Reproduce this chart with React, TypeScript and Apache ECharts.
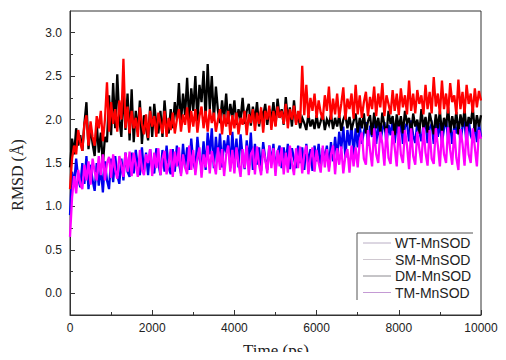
import React, { useEffect, useRef } from "react";
import * as echarts from "echarts";

// Sampling times (ps)
const TIMES: number[] = Array.from({ length: 201 }, (_, i) => i * 50);

// WT-MnSOD (black) values, every 50 ps
const WT: number[] = [
  1.45, 1.78, 1.6, 1.9, 1.7, 1.82, 1.64, 1.95, 2.2, 1.66,
  1.92, 1.72, 1.58, 1.96, 1.62, 1.85, 1.48, 1.8, 1.74, 2.28,
  1.82, 2.42, 1.9, 2.52, 2.0, 1.8, 2.36, 1.88, 2.3, 1.76,
  2.35, 1.74, 2.1, 1.86, 2.22, 1.72, 2.05, 1.9, 1.76, 2.15,
  1.8, 2.18, 1.95, 1.84, 2.1, 1.8, 2.22, 1.92, 1.84, 2.12,
  1.9, 2.2, 2.0, 2.42, 1.96, 2.3, 2.05, 2.48, 1.98, 2.36,
  2.1, 2.5, 1.98, 2.4, 2.2, 2.56, 2.0, 2.64, 2.12, 2.5,
  2.0, 2.38, 2.1, 1.96, 2.22, 2.0, 2.3, 1.95, 2.18, 2.02,
  2.22, 1.94, 2.12, 2.0, 2.25, 1.95, 2.1, 2.18, 1.93, 2.15,
  1.98, 2.2, 1.92, 2.1, 2.04, 2.18, 1.94, 2.12, 2.0, 2.2,
  1.93, 2.24, 2.02, 2.12, 1.94, 2.26, 2.0, 2.14, 1.92, 2.22,
  1.96, 2.06, 1.9, 2.02, 1.96, 1.88, 2.06, 1.92, 2.0, 1.89,
  2.05, 1.9, 1.98, 2.07, 1.88, 2.0, 1.94, 2.06, 1.89, 2.02,
  1.92, 2.05, 1.87, 2.0, 2.06, 1.9, 2.03, 1.88, 1.98, 2.07,
  1.85, 2.02, 1.9, 2.07, 1.84, 1.98, 2.05, 1.82, 2.08, 1.9,
  2.02, 1.84, 2.08, 1.93, 1.83, 2.1, 1.95, 2.04, 1.82, 2.06,
  1.9, 2.04, 1.84, 2.1, 1.96, 2.02, 1.83, 2.07, 1.92, 2.0,
  1.84, 2.12, 1.9, 2.03, 1.85, 2.08, 1.96, 1.83, 2.06, 1.9,
  2.1, 1.84, 2.02, 1.92, 2.14, 1.85, 2.04, 1.9, 2.09, 1.83,
  2.06, 1.92, 2.12, 1.85, 2.03, 1.95, 2.14, 1.86, 2.05, 1.92,
  2.05,
];

// SM-MnSOD (red)
const SM: number[] = [
  1.2, 1.55, 1.7, 1.6, 1.88, 1.74, 1.64, 1.95, 2.05, 1.7,
  1.98, 1.8, 1.7, 2.04, 1.9, 2.1, 1.75, 2.0, 2.43, 1.86,
  2.2, 1.95, 2.12, 1.86, 2.22, 2.0, 2.7, 1.9, 2.15, 1.84,
  2.1, 1.9, 2.02, 1.8, 2.14, 1.95, 1.83, 2.06, 1.79, 2.1,
  1.92, 2.04, 1.8, 2.08, 1.96, 1.84, 2.1, 1.8, 2.02, 1.88,
  2.08, 1.84, 2.0, 2.12, 1.86, 2.06, 1.94, 2.14, 1.85, 2.1,
  1.92, 2.12, 1.85, 2.04, 2.15, 1.9, 2.1, 1.86, 2.12, 1.96,
  2.08, 1.86, 2.0, 2.12, 1.83, 2.06, 1.92, 2.1, 1.82, 2.05,
  1.9, 2.08, 1.83, 2.02, 1.94, 2.1, 1.82, 2.06, 1.96, 2.12,
  1.87, 2.08, 1.95, 2.14, 1.85, 2.1, 2.0, 2.16, 1.88, 2.1,
  1.92, 2.15, 2.02, 2.1, 1.95, 2.18, 1.9, 2.12, 2.0, 2.16,
  1.94, 2.1, 1.96, 2.62, 2.05, 2.4, 2.02, 2.25, 2.1, 2.3,
  2.02, 2.22, 2.08, 2.0, 2.28, 2.1, 2.38, 2.0, 2.24, 2.06,
  2.3, 2.02, 2.18, 2.37, 2.0, 2.24, 2.12, 2.3, 2.01, 2.4,
  2.06, 2.28, 2.02, 2.2, 2.32, 2.04, 2.26, 2.12, 2.38, 2.04,
  2.3, 2.14, 2.42, 2.04, 2.28, 2.18, 2.06, 2.34, 2.1, 2.3,
  2.05, 2.36, 2.14, 2.28, 2.06, 2.45, 2.1, 2.3, 2.07, 2.34,
  2.18, 2.28, 2.06, 2.4, 2.12, 2.32, 2.07, 2.49, 2.15, 2.3,
  2.06, 2.45, 2.12, 2.3, 2.07, 2.42, 2.2, 2.28, 2.06, 2.46,
  2.12, 2.32, 2.07, 2.4, 2.18, 2.3, 2.08, 2.36, 2.14, 2.33,
  2.22,
];

// DM-MnSOD (blue)
const DM: number[] = [
  0.9, 1.4, 1.25, 1.55, 1.32, 1.22, 1.5, 1.26, 1.58, 1.2,
  1.48, 1.3, 1.18, 1.5, 1.24, 1.45, 1.16, 1.52, 1.3, 1.2,
  1.55, 1.28, 1.58, 1.36, 1.26, 1.55, 1.3, 1.62, 1.4, 1.34,
  1.62, 1.38, 1.65, 1.46, 1.36, 1.68, 1.4, 1.62, 1.36, 1.66,
  1.44, 1.38, 1.67, 1.5, 1.36, 1.65, 1.4, 1.7, 1.45, 1.37,
  1.66, 1.4, 1.7, 1.5, 1.38, 1.72, 1.44, 1.68, 1.42, 1.78,
  1.5, 1.42, 1.8, 1.55, 1.45, 1.75, 1.42, 1.85, 1.6, 1.9,
  1.44, 1.8, 1.52, 1.84, 1.45, 1.76, 1.62, 1.82, 1.44, 1.86,
  1.5, 1.78, 1.45, 1.83, 1.58, 1.43, 1.76, 1.5, 1.85, 1.42,
  1.72, 1.48, 1.68, 1.41, 1.74, 1.55, 1.42, 1.7, 1.5, 1.72,
  1.42, 1.62, 1.7, 1.44, 1.68, 1.5, 1.72, 1.43, 1.67, 1.55,
  1.44, 1.7, 1.5, 1.68, 1.42, 1.72, 1.48, 1.66, 1.41, 1.7,
  1.52, 1.72, 1.44, 1.67, 1.55, 1.7, 1.45, 1.74, 1.52, 1.8,
  1.55, 1.86, 1.66, 1.92, 1.56, 1.88, 1.7, 1.95, 1.58, 1.9,
  1.68, 1.94, 1.72, 1.86, 1.97, 1.7, 1.93, 1.8, 1.98, 1.72,
  1.95, 1.74, 1.88, 1.97, 1.72, 1.94, 1.82, 2.0, 1.73, 1.95,
  1.8, 1.98, 1.72, 1.92, 1.96, 1.75, 1.99, 1.82, 1.73, 1.97,
  1.86, 1.75, 1.94, 1.98, 1.73, 1.9, 1.95, 1.72, 1.99, 1.8,
  1.96, 1.73, 1.9, 2.0, 1.76, 1.96, 1.72, 1.94, 1.84, 1.98,
  1.74, 1.92, 1.96, 1.72, 1.99, 1.82, 1.75, 1.97, 1.74, 1.95,
  1.8,
];

// TM-MnSOD (magenta)
const TM: number[] = [
  0.65, 1.1, 1.35, 1.15, 1.42, 1.26, 1.2, 1.48, 1.3, 1.52,
  1.25, 1.55, 1.4, 1.3, 1.58, 1.36, 1.6, 1.3, 1.5, 1.57,
  1.33, 1.6, 1.42, 1.32, 1.58, 1.48, 1.34, 1.62, 1.4, 1.63,
  1.35, 1.62, 1.48, 1.34, 1.65, 1.42, 1.36, 1.6, 1.5, 1.66,
  1.35, 1.62, 1.44, 1.67, 1.36, 1.55, 1.64, 1.37, 1.5, 1.66,
  1.34, 1.63, 1.46, 1.68, 1.35, 1.6, 1.45, 1.37, 1.7, 1.42,
  1.65, 1.36, 1.56, 1.68, 1.33, 1.6, 1.45, 1.7, 1.38, 1.64,
  1.5, 1.37, 1.68, 1.42, 1.66, 1.35, 1.6, 1.7, 1.4, 1.65,
  1.38, 1.68, 1.5, 1.34, 1.66, 1.44, 1.7, 1.36, 1.6, 1.65,
  1.37, 1.69, 1.48, 1.36, 1.66, 1.55, 1.38, 1.7, 1.44, 1.67,
  1.35, 1.65, 1.46, 1.68, 1.37, 1.62, 1.39, 1.7, 1.5, 1.36,
  1.67, 1.44, 1.69, 1.38, 1.6, 1.7, 1.37, 1.55, 1.68, 1.4,
  1.65, 1.5, 1.39, 1.7, 1.45, 1.66, 1.4, 1.6, 1.7, 1.37,
  1.67, 1.48, 1.69, 1.38, 1.58, 1.66, 1.39, 1.7, 1.46, 1.68,
  1.45, 1.75, 1.85, 1.55, 1.48, 1.88, 1.65, 1.46, 1.9, 1.6,
  1.5, 1.86, 1.72, 1.47, 1.9, 1.56, 1.49, 1.87, 1.68, 1.46,
  1.92, 1.6, 1.5, 1.88, 1.7, 1.43, 1.9, 1.58, 1.48, 1.86,
  1.66, 1.5, 1.91, 1.62, 1.47, 1.88, 1.55, 1.49, 1.9, 1.7,
  1.46, 1.87, 1.6, 1.5, 1.91, 1.65, 1.48, 1.88, 1.56, 1.42,
  1.89, 1.72, 1.47, 1.92, 1.6, 1.5, 1.9, 1.68, 1.46, 1.88,
  1.78,
];

const SERIES_NAMES = ["WT-MnSOD", "SM-MnSOD", "DM-MnSOD", "TM-MnSOD"];
const LEGEND_COLORS = ["#b9aec4", "#cfc8d0", "#8c8a90", "#c49ad4"];
const Y_MAJOR = [0, 0.5, 1.0, 1.5, 2.0, 2.5, 3.0];
const Y_MINOR = [0.25, 0.75, 1.25, 1.75, 2.25, 2.75];

const pair = (vals: number[]) => TIMES.map((t, i) => [t, vals[i]]);

export default function App() {
  const ref = useRef<HTMLDivElement>(null);
  useEffect(() => {
    if (!ref.current) return;
    const chart = echarts.init(ref.current, undefined, { renderer: "svg" });
    const font = "'Liberation Sans', Arial, sans-serif";
    const serif = "'Liberation Serif', 'Times New Roman', serif";
    const lineSeries = (name: string, vals: number[], color: string) => ({
      name,
      type: "line",
      data: pair(vals),
      showSymbol: false,
      symbol: "none",
      lineStyle: { color, width: 2.3, join: "miter", miterLimit: 4 },
      itemStyle: { color },
      silent: true,
    });
    const legendRows = [243, 259.5, 276, 292.5];
    const legendGraphics: any[] = [];
    SERIES_NAMES.forEach((name, i) => {
      legendGraphics.push({
        type: "line",
        shape: { x1: 363, y1: legendRows[i], x2: 391, y2: legendRows[i] },
        style: { stroke: LEGEND_COLORS[i], lineWidth: 1 },
        silent: true,
      });
      legendGraphics.push({
        type: "text",
        x: 395,
        y: legendRows[i],
        style: {
          text: name,
          fontSize: 14,
          fontFamily: font,
          fill: "#222",
          align: "left",
          verticalAlign: "middle",
        },
      });
    });
    chart.setOption({
      animation: false,
      backgroundColor: "#fff",
      grid: {
        left: 70,
        right: 25,
        top: 11,
        bottom: 45,
        show: true,
        borderColor: "#333",
        borderWidth: 1,
        backgroundColor: "transparent",
      },
      xAxis: {
        type: "value",
        min: 0,
        max: 10000,
        interval: 2000,
        axisLine: { onZero: false, lineStyle: { color: "#333", width: 1 } },
        axisTick: { inside: true, length: 5, lineStyle: { color: "#333" } },
        minorTick: { show: true, splitNumber: 2, length: 3, lineStyle: { color: "#333" } },
        splitLine: { show: false },
        axisLabel: {
          color: "#222",
          fontSize: 12,
          fontFamily: font,
          margin: 7,
          formatter: (v: number) => String(v),
        },
      },
      yAxis: [
        {
          type: "value",
          min: -0.25,
          max: 3.25,
          axisLine: { show: true, onZero: false, lineStyle: { color: "#333", width: 1 } },
          axisTick: { show: true, inside: true, length: 5, customValues: Y_MAJOR, lineStyle: { color: "#333" } },
          axisLabel: {
            customValues: Y_MAJOR,
            color: "#222",
            fontSize: 12,
            fontFamily: font,
            margin: 8,
            formatter: (v: number) => v.toFixed(1),
          },
          splitLine: { show: false },
        },
        {
          type: "value",
          min: -0.25,
          max: 3.25,
          position: "left",
          offset: 0,
          axisLine: { show: false, onZero: false },
          axisTick: { show: true, inside: true, length: 3, customValues: Y_MINOR, lineStyle: { color: "#333" } },
          axisLabel: { show: false },
          splitLine: { show: false },
        },
      ],
      graphic: [
        {
          type: "polyline",
          shape: { points: [[357, 300], [357, 233], [473, 233]] },
          style: { stroke: "#555", lineWidth: 1, fill: "none" },
          silent: true,
        },
        ...legendGraphics,
        {
          type: "text",
          x: 17,
          y: 175,
          rotation: Math.PI / 2,
          style: {
            text: "RMSD (Å)",
            fontSize: 16,
            fontFamily: serif,
            fill: "#222",
            align: "center",
            verticalAlign: "middle",
          },
        },
        {
          type: "text",
          x: 276,
          y: 350,
          style: {
            text: "Time (ps)",
            fontSize: 17,
            fontFamily: serif,
            fill: "#222",
            align: "center",
            verticalAlign: "middle",
          },
        },
      ],
      series: [
        lineSeries(SERIES_NAMES[2], DM, "#0000ee"),
        lineSeries(SERIES_NAMES[0], WT, "#000000"),
        lineSeries(SERIES_NAMES[1], SM, "#ff0000"),
        lineSeries(SERIES_NAMES[3], TM, "#ff00ff"),
      ],
    });
    return () => chart.dispose();
  }, []);
  return <div ref={ref} style={{ width: 506, height: 360, margin: -8 }} />;
}
